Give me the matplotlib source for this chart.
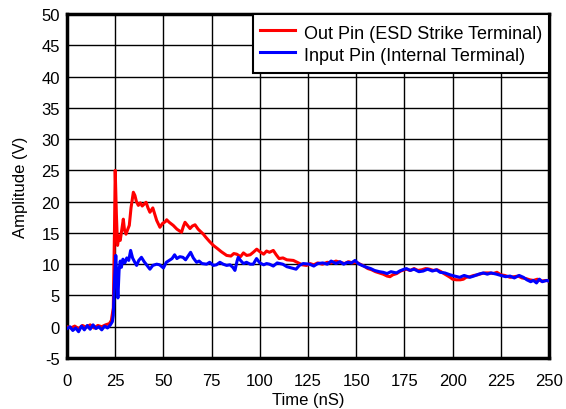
import matplotlib
matplotlib.use("Agg")
import matplotlib.pyplot as plt

# Out Pin (ESD strike terminal), red trace
out_t = [0, 2, 4, 6, 8, 10, 12, 14, 16, 18, 20, 22, 23, 24, 24.6, 25, 25.6, 26.2,
         27, 27.6, 28.4, 29.2, 29.8, 30.6, 31.4, 32.3, 33.2, 34.4, 35.2, 36, 37, 38,
         39, 40, 41, 42, 43, 44.5, 45.5, 46.5, 48.2, 49.5, 51, 51.7, 53, 55.1, 57,
         59.4, 60.3, 61.2, 62.5, 63.8, 65, 66.4, 68, 70.7, 72, 74, 75.9, 78, 80,
         82.8, 85, 86.5, 88, 90, 91.5, 93.2, 95, 96.6, 98.4, 100, 102, 103.5, 105,
         107, 108.5, 110, 112, 114, 117.4, 120, 122, 124.3, 126, 128, 130, 132.5,
         135, 137, 139.5, 141.6, 144, 146, 148, 150.2, 152, 154, 156, 158, 160, 162,
         164, 166, 167.5, 169, 171, 173, 176, 178, 180, 182, 184, 186, 188, 190, 192,
         194, 196, 198.7, 200, 202, 204, 205.6, 207, 209, 211, 213, 215, 217, 219.4,
         221, 223, 225, 227, 229.8, 232, 234, 236, 238, 240, 241.9, 244, 246, 248.5,
         250]
out_v = [0.0, -0.2, 0.1, -0.3, 0.2, -0.1, 0.3, -0.2, 0.2, 0.0, 0.3, 0.5, 1.0, 3.0,
         15, 25, 18, 13, 14.5, 13.8, 15.5, 17.2, 15.5, 14.8, 15.5, 16.2, 19, 21.5,
         21, 20, 19.4, 19.8, 19.3, 19.6, 19.9, 19, 18.3, 19, 18, 17, 15.9, 16.5,
         16.8, 17.1, 16.7, 16.2, 15.6, 15.1, 16, 16.7, 16.2, 15.7, 16.1, 16.3, 15.6,
         14.8, 14.3, 13.6, 13.0, 12.5, 12.0, 11.4, 11.3, 11.7, 11.6, 11.2, 11.8,
         11.4, 11.5, 11.9, 12.4, 12.0, 11.6, 12.1, 11.9, 12.2, 11.5, 10.9, 11.0,
         10.7, 10.6, 10.2, 9.9, 9.8, 10.1, 9.9, 10.2, 10.0, 10.3, 10.2, 10.5, 10.3,
         10.1, 10.4, 10.2, 10.3, 10.0, 9.7, 9.3, 9.1, 8.8, 8.6, 8.4, 8.1, 8.0, 8.3,
         8.5, 8.9, 9.2, 9.0, 9.3, 9.0, 9.1, 9.3, 9.2, 9.0, 9.1, 8.8, 8.4, 7.9, 7.6,
         7.5, 7.5, 7.6, 7.9, 8.0, 8.2, 8.3, 8.5, 8.6, 8.6, 8.5, 8.7, 8.3, 8.2, 7.9,
         8.0, 8.1, 7.8, 7.7, 7.5, 7.4, 7.6, 7.3, 7.4, 7.3]

# Input Pin (internal terminal), blue trace
in_t = [0, 1.5, 3, 4.5, 6, 7.5, 9, 10.5, 12, 13.5, 15, 16.5, 18, 19.5, 21, 22.5,
        23.5, 24, 24.7, 25.3, 25.8, 26.4, 27, 27.6, 28.2, 29, 30, 31, 32, 33, 34,
        35, 36.1, 37.2, 38.6, 40, 41.5, 43, 44.5, 46.5, 48, 50, 51.5, 53, 54.5,
        55.8, 57, 58.5, 60.1, 61.5, 62.8, 64.1, 65.5, 67.2, 68.5, 70, 72.4, 74,
        75.9, 77.5, 79.3, 81, 82.8, 84.5, 86, 87.1, 88.2, 88.8, 90, 91.5, 93.1, 95,
        96.6, 98.3, 100, 102, 103.5, 105, 107, 109, 111.9, 114, 116.5, 118.8,
        120.5, 122.5, 125.8, 128, 130, 132.7, 135, 137, 139.5, 141.6, 143.5, 145.5,
        147.5, 149.4, 151, 153, 155.4, 157.5, 159.5, 162, 164, 166, 168, 170.9,
        172.5, 174, 176, 178, 180, 182.5, 184.7, 187, 189.5, 191.6, 193.5, 196,
        198.7, 201, 203.7, 206, 208.9, 211, 213.5, 215.9, 218, 220, 222.8, 225,
        227.5, 229.8, 232, 234.5, 236.7, 238.5, 240.5, 241.9, 243.5, 245, 246.5,
        248.8, 250]
in_v = [-0.3, 0.0, -0.6, -0.2, -0.8, 0.1, -0.5, 0.2, -0.4, 0.3, -0.3, 0.0, -0.5,
        0.1, -0.2, 0.3, 0.8, 1.8, 8, 11.4, 8, 4.6, 9, 10.5, 9.5, 10.8, 10.2, 11.0,
        10.6, 12.2, 11.0, 10.4, 9.8, 10.6, 11.1, 10.4, 9.8, 9.2, 9.8, 10.0, 9.9,
        9.4, 10.3, 10.6, 10.9, 11.5, 10.9, 11.2, 11.1, 10.7, 11.3, 11.9, 11.0,
        10.3, 10.5, 10.1, 10.0, 10.3, 9.8, 9.9, 10.3, 10.0, 9.8, 9.9, 9.5, 9.0,
        10.5, 11.1, 10.6, 10.1, 10.3, 10.0, 10.0, 10.9, 10.2, 9.9, 10.1, 10.0, 9.7,
        10.2, 10.0, 9.6, 9.4, 9.2, 9.8, 10.1, 10.0, 9.7, 10.1, 10.2, 10.0, 10.5,
        10.1, 10.4, 10.0, 10.3, 10.2, 10.6, 10.1, 9.8, 9.5, 9.3, 9.0, 8.8, 8.7,
        8.5, 8.8, 8.6, 8.9, 9.1, 9.3, 9.0, 9.2, 8.8, 8.9, 9.2, 8.9, 9.1, 8.7, 8.6,
        8.3, 8.1, 7.9, 8.2, 7.9, 8.1, 8.4, 8.6, 8.4, 8.6, 8.4, 8.2, 8.0, 8.1, 7.8,
        8.2, 7.9, 7.5, 7.2, 7.4, 7.0, 7.6, 7.2, 7.4, 7.3]

x_ticks = list(range(0, 251, 25))
y_ticks = list(range(-5, 51, 5))

plt.rcParams["font.family"] = ["Liberation Sans", "DejaVu Sans"]
plt.rcParams["axes.unicode_minus"] = False

fig = plt.figure(figsize=(5.66, 4.10), dpi=100)
ax = fig.add_axes([0.1184, 0.1244, 0.8516, 0.839])

ax.plot(out_t, out_v, color="#ff0000", linewidth=2.2,
        label="Out Pin (ESD Strike Terminal)", zorder=3)
ax.plot(in_t, in_v, color="#0000ff", linewidth=2.2,
        label="Input Pin (Internal Terminal)", zorder=4)

ax.set_xlim(0, 250)
ax.set_ylim(-5, 50)
ax.set_xticks(x_ticks)
ax.set_yticks(y_ticks)
ax.tick_params(length=0, labelsize=12)
ax.tick_params(axis="x", pad=10.5)
ax.tick_params(axis="y", pad=5)
ax.grid(True, color="black", linewidth=1.0)
ax.set_axisbelow(True)
for spine in ax.spines.values():
    spine.set_linewidth(2.5)

ax.set_xlabel("Time (nS)", fontsize=12, labelpad=3)
ax.set_ylabel("Amplitude (V)", fontsize=12, labelpad=9.5)

leg = ax.legend(loc="upper right", fontsize=13, fancybox=False, framealpha=1,
                edgecolor="black", borderaxespad=0.0, handlelength=1.9,
                handleheight=1.5, handletextpad=0.5, labelspacing=0.0,
                borderpad=0.4)
leg.get_frame().set_linewidth(1.5)
leg.set_zorder(5)

fig.savefig("out.png", dpi=100)
